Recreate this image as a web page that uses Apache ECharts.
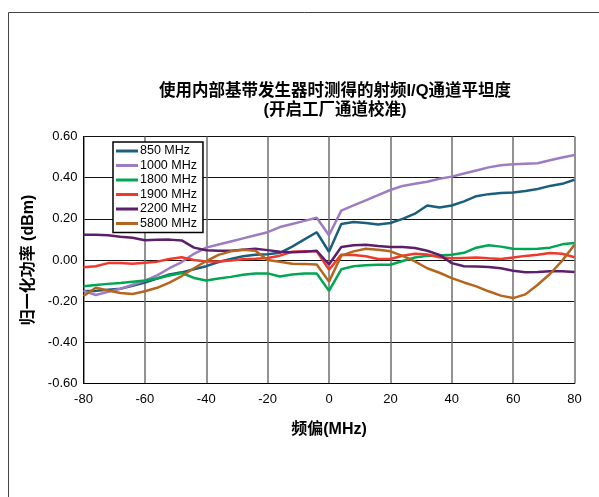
<!DOCTYPE html>
<html>
<head>
<meta charset="utf-8">
<script src="https://cdn.jsdelivr.net/npm/echarts@6/dist/echarts.min.js"></script>
<style>
  html, body { margin: 0; padding: 0; background: #fff; }
  #chart { width: 599px; height: 497px; }
</style>
</head>
<body>
<div id="chart"></div>
<script>
const FONT = '"Liberation Sans", Arial, "Noto Sans CJK SC", sans-serif'

// frequency offset, MHz (4 MHz steps)
const offsets = []
for (let f = -80; f <= 80; f += 4) offsets.push(f)

const seriesNames = ['850 MHz', '1000 MHz', '1800 MHz', '1900 MHz', '2200 MHz', '5800 MHz']
const seriesColors = ['#1b5f7c', '#9d7cc1', '#00a651', '#f0382b', '#5c1f6b', '#b5651d']

const p850 = [-0.15, -0.15, -0.145, -0.14, -0.125, -0.11, -0.09, -0.07, -0.06, -0.045, -0.03, -0.01, 0.005, 0.018, 0.025, 0.028, 0.035, 0.065, 0.10, 0.135,
  0.04, 0.175, 0.185, 0.18, 0.172, 0.18, 0.2, 0.225, 0.265, 0.255, 0.265, 0.285, 0.31, 0.32, 0.325, 0.328, 0.335, 0.345, 0.36, 0.37, 0.39]
const p1000 = [-0.15, -0.17, -0.155, -0.14, -0.12, -0.10, -0.075, -0.04, -0.01, 0.03, 0.06, 0.075, 0.09, 0.105, 0.12, 0.135, 0.16, 0.175, 0.19, 0.205,
  0.12, 0.24, 0.265, 0.29, 0.315, 0.34, 0.36, 0.37, 0.38, 0.395, 0.405, 0.42, 0.435, 0.45, 0.46, 0.465, 0.468, 0.47, 0.485, 0.498, 0.51]
const p1800 = [-0.128, -0.122, -0.116, -0.112, -0.106, -0.1, -0.09, -0.075, -0.063, -0.087, -0.1, -0.09, -0.082, -0.072, -0.066, -0.065, -0.08, -0.07, -0.066, -0.066,
  -0.15, -0.045, -0.03, -0.025, -0.023, -0.023, -0.005, 0.012, 0.02, 0.022, 0.025, 0.035, 0.06, 0.072, 0.065, 0.055, 0.053, 0.055, 0.06, 0.076, 0.083]
const p1900 = [-0.035, -0.03, -0.015, -0.015, -0.018, -0.013, -0.008, 0.005, 0.013, 0.0, -0.007, -0.007, -0.003, 0.004, 0.006, 0.01, 0.021, 0.04, 0.042, 0.042,
  -0.047, 0.026, 0.024, 0.018, 0.005, 0.005, 0.021, 0.03, 0.027, 0.013, 0.008, 0.01, 0.012, 0.008, 0.005, 0.012, 0.02, 0.026, 0.034, 0.03, 0.013]
const p2200 = [0.123, 0.123, 0.12, 0.113, 0.108, 0.096, 0.098, 0.099, 0.095, 0.06, 0.047, 0.045, 0.045, 0.05, 0.055, 0.048, 0.04, 0.038, 0.04, 0.045,
  -0.022, 0.063, 0.072, 0.074, 0.068, 0.063, 0.063, 0.058, 0.045, 0.025, -0.015, -0.03, -0.032, -0.034, -0.04, -0.052, -0.06, -0.058, -0.055, -0.055, -0.058]
const p5800 = [-0.175, -0.135, -0.148, -0.16, -0.165, -0.152, -0.135, -0.11, -0.078, -0.04, -0.005, 0.025, 0.042, 0.05, 0.045, 0.0, -0.008, -0.018, -0.02, -0.022,
  -0.105, 0.021, 0.042, 0.055, 0.05, 0.042, 0.02, -0.007, -0.04, -0.062, -0.088, -0.109, -0.128, -0.152, -0.173, -0.185, -0.167, -0.12, -0.068, -0.003, 0.074]

const seriesValues = [p850, p1000, p1800, p1900, p2200, p5800]

const chart = echarts.init(document.getElementById('chart'), null, { renderer: 'canvas' })

chart.setOption({
  animation: false,
  textStyle: { fontFamily: FONT },
  title: {
    text: '使用内部基带发生器时测得的射频I/Q通道平坦度\n(开启工厂通道校准)',
    left: 330, top: 77, textAlign: 'center',
    textStyle: { fontSize: 16.5, fontWeight: 'bold', color: '#000', lineHeight: 19, fontFamily: FONT },
  },
  legend: {
    data: seriesNames,
    orient: 'vertical',
    left: 113, top: 142,
    icon: 'rect', itemWidth: 22, itemHeight: 3, itemGap: 0.5,
    padding: [2, 6, 2, 3],
    backgroundColor: '#fff',
    borderColor: '#000', borderWidth: 1.5,
    textStyle: { fontSize: 12.5, color: '#000', lineHeight: 14, padding: [0, 0, 0, -3] },
  },
  grid: { left: 83.5, right: 24.5, top: 136.5, bottom: 113.5 },
  xAxis: {
    type: 'value', min: -80, max: 80, interval: 20,
    name: '频偏(MHz)', nameLocation: 'middle', nameGap: 38,
    nameTextStyle: { fontSize: 16, fontWeight: 'bold', color: '#000' },
    axisLine: { onZero: false, lineStyle: { color: '#000', width: 1 } },
    axisTick: { show: false },
    axisLabel: { color: '#000', fontSize: 13, margin: 9 },
    splitLine: { lineStyle: { color: '#6e6e6e', width: 1.5 } },
  },
  yAxis: {
    type: 'value', min: -0.6, max: 0.6, interval: 0.2,
    name: '归一化功率 (dBm)', nameLocation: 'middle', nameGap: 45,
    nameTextStyle: { fontSize: 16, fontWeight: 'bold', color: '#000' },
    axisLine: { show: true, onZero: false, lineStyle: { color: '#000', width: 1 } },
    axisTick: { show: false },
    axisLabel: { color: '#000', fontSize: 13, margin: 6, formatter: v => v.toFixed(2) },
    splitLine: { lineStyle: { color: '#111', width: 1 } },
  },
  graphic: [{
    type: 'rect', silent: true,
    shape: { x: 8.5, y: 12.5, width: 700, height: 600 },
    style: { fill: 'none', stroke: '#444', lineWidth: 1 },
  }],
  series: seriesNames.map((name, i) => ({
    name,
    type: 'line',
    data: offsets.map((f, j) => [f, seriesValues[i][j]]),
    showSymbol: false, symbol: 'none',
    lineStyle: { color: seriesColors[i], width: 2.5 },
    itemStyle: { color: seriesColors[i] },
    z: 3,
  })),
})
</script>
</body>
</html>
